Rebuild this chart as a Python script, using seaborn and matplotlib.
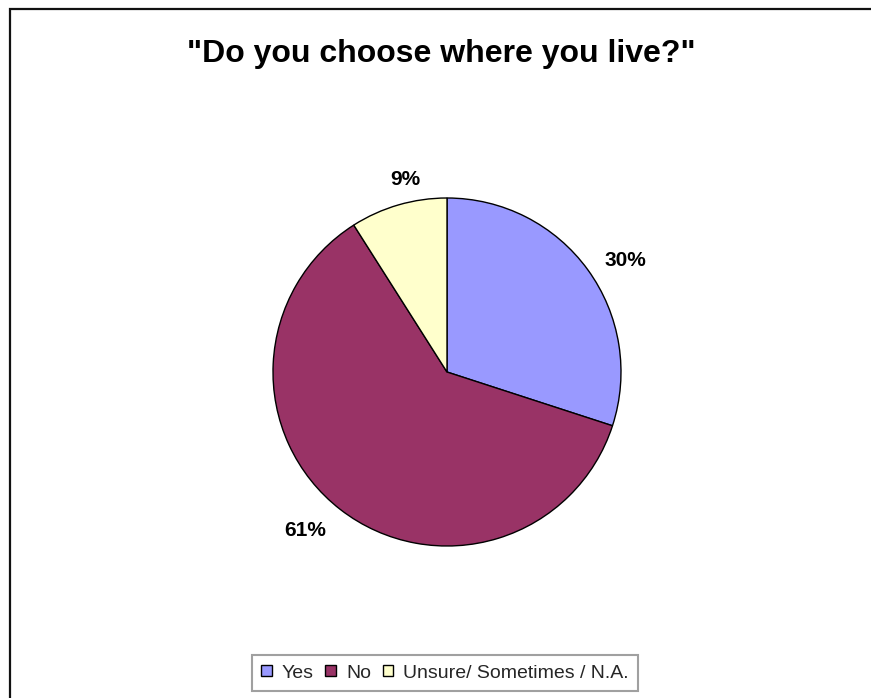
import matplotlib
matplotlib.use("Agg")
import numpy as np
import matplotlib.pyplot as plt
from matplotlib.patches import Rectangle, Patch
import seaborn as sns

# Survey answers and their shares (percent)
categories = ["Yes", "No", "Unsure/ Sometimes / N.A."]
shares = [30, 61, 9]
slice_colors = ["#9999FF", "#993366", "#FFFFCC"]
title_text = '"Do you choose where you live?"'

sns.set_theme(style="white")
plt.rcParams["font.family"] = ["Liberation Sans", "DejaVu Sans"]

palette = sns.color_palette(slice_colors)

W, H = 871, 698
fig = plt.figure(figsize=(W / 100, H / 100), dpi=100)
fig.patch.set_facecolor("white")

# Chart-area border (top and left edges visible, the rest runs off the canvas)
fig.patches.append(Rectangle((10 / W, -0.05), 1.2, 1 - 9 / H + 0.05,
                             transform=fig.transFigure, fill=False,
                             edgecolor="#111111", linewidth=1.6))

# Pie: centre (447, 372) px, radius 174 px
cx, cy, r = 447, 372, 174
ax = fig.add_axes([(cx - r) / W, 1 - (cy + r) / H, 2 * r / W, 2 * r / H])
wedges, _ = ax.pie(
    shares, colors=palette, startangle=90, counterclock=False,
    wedgeprops=dict(edgecolor="black", linewidth=1.0),
)
ax.set_xlim(-1, 1)
ax.set_ylim(-1, 1)
ax.set_aspect("equal")
ax.axis("off")

# Percentage labels just outside each slice
label_radius = [1.21, 1.22, 1.13]
label_turn = -4.0  # degrees, nudges labels slightly clockwise
total = sum(shares)
for w, v, rad in zip(wedges, shares, label_radius):
    ang = np.deg2rad((w.theta1 + w.theta2) / 2 + label_turn)
    ax.text(rad * np.cos(ang), rad * np.sin(ang), f"{100 * v / total:.0f}%",
            ha="center", va="center", fontsize=15, fontweight="bold",
            color="black", clip_on=False)

fig.text(441 / W, 1 - 62 / H, title_text, ha="center", va="baseline",
         fontsize=23, fontweight="bold", color="black")

handles = [Patch(facecolor=c, edgecolor="black", linewidth=1.0) for c in palette]
leg = fig.legend(handles, categories, loc="center", ncol=3,
                 bbox_to_anchor=(445 / W, 1 - 673 / H),
                 frameon=True, fancybox=False, fontsize=14,
                 handlelength=0.55, handleheight=0.55, handletextpad=0.5,
                 columnspacing=0.6, borderpad=0.5)
leg.get_frame().set_edgecolor("#888888")
leg.get_frame().set_linewidth(1.5)

fig.savefig("out.png", dpi=100, facecolor="white")
